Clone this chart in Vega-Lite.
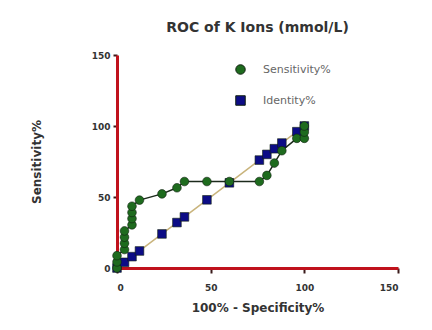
{
  "$schema": "https://vega.github.io/schema/vega-lite/v6.json",
  "width": 281,
  "height": 213,
  "autosize": "none",
  "padding": {"left": 117, "top": 55, "right": 34, "bottom": 62},
  "background": "white",
  "config": {
    "view": {"stroke": null},
    "font": "DejaVu Sans",
    "legend": {
      "orient": "none",
      "legendX": 118,
      "legendY": 9,
      "padding": 0,
      "rowPadding": 16,
      "symbolSize": 90,
      "symbolStrokeWidth": 1,
      "labelOffset": 17,
      "labelFont": "DejaVu Sans",
      "labelFontSize": 11,
      "labelColor": "#666666"
    }
  },
  "title": {
    "text": "ROC of K Ions (mmol/L)",
    "font": "DejaVu Sans",
    "fontSize": 14,
    "fontWeight": "bold",
    "color": "#333333",
    "offset": 16
  },
  "data": {
    "values": [
      {"x": 0, "y": 0, "series": "Identity%"},
      {"x": 4, "y": 4, "series": "Identity%"},
      {"x": 8, "y": 8, "series": "Identity%"},
      {"x": 12, "y": 12, "series": "Identity%"},
      {"x": 24, "y": 24, "series": "Identity%"},
      {"x": 32, "y": 32, "series": "Identity%"},
      {"x": 36, "y": 36, "series": "Identity%"},
      {"x": 48, "y": 48, "series": "Identity%"},
      {"x": 60, "y": 60, "series": "Identity%"},
      {"x": 76, "y": 76, "series": "Identity%"},
      {"x": 80, "y": 80, "series": "Identity%"},
      {"x": 84, "y": 84, "series": "Identity%"},
      {"x": 88, "y": 88, "series": "Identity%"},
      {"x": 96, "y": 96, "series": "Identity%"},
      {"x": 100, "y": 100, "series": "Identity%"},
      {"x": 0, "y": 0, "series": "Sensitivity%"},
      {"x": 0, "y": 4.3, "series": "Sensitivity%"},
      {"x": 0, "y": 8.7, "series": "Sensitivity%"},
      {"x": 4, "y": 13.0, "series": "Sensitivity%"},
      {"x": 4, "y": 17.4, "series": "Sensitivity%"},
      {"x": 4, "y": 21.7, "series": "Sensitivity%"},
      {"x": 4, "y": 26.1, "series": "Sensitivity%"},
      {"x": 8, "y": 30.4, "series": "Sensitivity%"},
      {"x": 8, "y": 34.8, "series": "Sensitivity%"},
      {"x": 8, "y": 39.1, "series": "Sensitivity%"},
      {"x": 8, "y": 43.5, "series": "Sensitivity%"},
      {"x": 12, "y": 47.8, "series": "Sensitivity%"},
      {"x": 24, "y": 52.2, "series": "Sensitivity%"},
      {"x": 32, "y": 56.5, "series": "Sensitivity%"},
      {"x": 36, "y": 60.9, "series": "Sensitivity%"},
      {"x": 48, "y": 60.9, "series": "Sensitivity%"},
      {"x": 60, "y": 60.9, "series": "Sensitivity%"},
      {"x": 76, "y": 60.9, "series": "Sensitivity%"},
      {"x": 80, "y": 65.2, "series": "Sensitivity%"},
      {"x": 84, "y": 73.9, "series": "Sensitivity%"},
      {"x": 88, "y": 82.6, "series": "Sensitivity%"},
      {"x": 96, "y": 91.3, "series": "Sensitivity%"},
      {"x": 100, "y": 91.3, "series": "Sensitivity%"},
      {"x": 100, "y": 95.7, "series": "Sensitivity%"},
      {"x": 100, "y": 100, "series": "Sensitivity%"}
    ]
  },
  "encoding": {
    "x": {
      "field": "x",
      "type": "quantitative",
      "scale": {"domain": [0, 150], "nice": false},
      "axis": {
        "title": "100% - Specificity%",
        "values": [0, 50, 100, 150],
        "grid": false,
        "domainColor": "#c0121c",
        "domainWidth": 3,
        "tickColor": "#3a1a1a",
        "tickWidth": 2,
        "tickSize": 5,
        "labelFont": "DejaVu Sans",
        "labelFontSize": 9,
        "labelFontWeight": "bold",
        "labelColor": "#333333",
        "labelPadding": 10,
        "titleFont": "DejaVu Sans",
        "titleFontSize": 12,
        "titleFontWeight": "bold",
        "titleColor": "#333333",
        "titlePadding": 10
      }
    },
    "y": {
      "field": "y",
      "type": "quantitative",
      "scale": {"domain": [0, 150], "nice": false},
      "axis": {
        "title": "Sensitivity%",
        "values": [0, 50, 100, 150],
        "grid": false,
        "domainColor": "#c0121c",
        "domainWidth": 3,
        "tickColor": "#3a1a1a",
        "tickWidth": 2,
        "tickSize": 4,
        "labelFont": "DejaVu Sans",
        "labelFontSize": 9,
        "labelFontWeight": "bold",
        "labelColor": "#333333",
        "labelPadding": 3,
        "titleFont": "DejaVu Sans",
        "titleFontSize": 12,
        "titleFontWeight": "bold",
        "titleColor": "#333333",
        "titlePadding": 48
      }
    }
  },
  "layer": [
    {
      "transform": [{"filter": "datum.series === 'Identity%'"}],
      "mark": {"type": "line", "strokeWidth": 1.5, "color": "#c9b47c"},
      "encoding": {}
    },
    {
      "transform": [{"filter": "datum.series === 'Sensitivity%'"}],
      "mark": {"type": "line", "strokeWidth": 1.5, "color": "#1c2a1c"},
      "encoding": {}
    },
    {
      "mark": {"type": "point", "filled": true, "size": 75, "opacity": 1, "stroke": "#102010", "strokeWidth": 0.6},
      "encoding": {
        "fill": {
          "field": "series",
          "type": "nominal",
          "title": null,
          "scale": {"domain": ["Sensitivity%", "Identity%"], "range": ["#1e6b1e", "#0c0c86"]}
        },
        "shape": {
          "field": "series",
          "type": "nominal",
          "title": null,
          "scale": {"domain": ["Sensitivity%", "Identity%"], "range": ["circle", "square"]}
        }
      }
    }
  ]
}
